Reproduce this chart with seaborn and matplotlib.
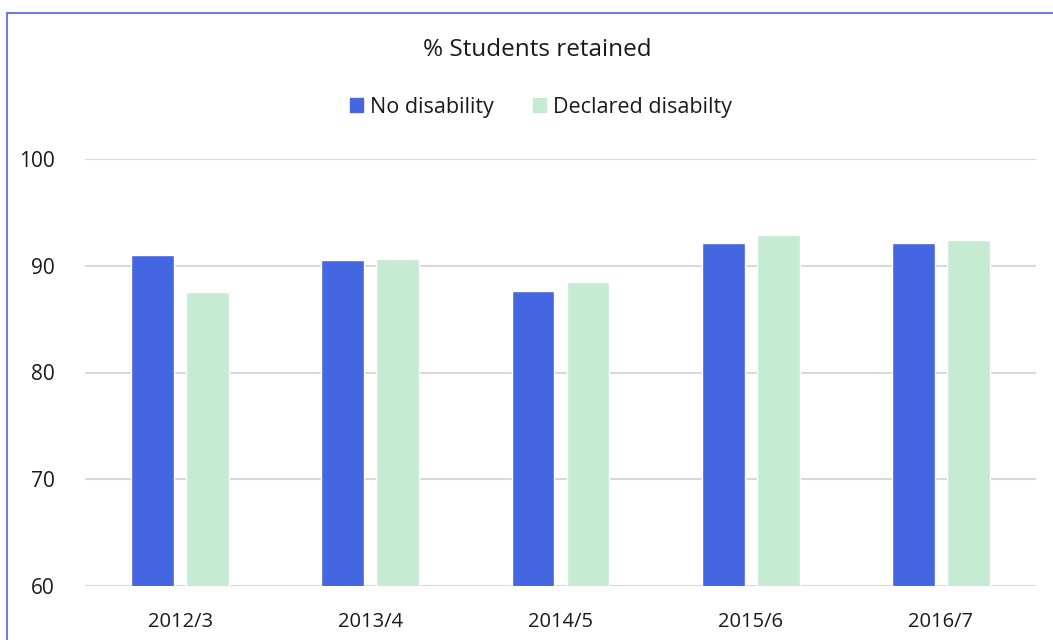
import matplotlib
matplotlib.use("Agg")
import matplotlib.pyplot as plt
from matplotlib.patches import Rectangle
import seaborn as sns
import pandas as pd

# Retention rates by academic year
years = ["2012/3", "2013/4", "2014/5", "2015/6", "2016/7"]
no_disability = [91.0, 90.5, 87.6, 92.1, 92.1]
declared_disability = [87.5, 90.6, 88.45, 92.9, 92.45]
series_names = ["No disability", "Declared disabilty"]
y_ticks = [60, 70, 80, 90, 100]

df = pd.DataFrame({
    "year": years * 2,
    "value": no_disability + declared_disability,
    "group": [series_names[0]] * len(years) + [series_names[1]] * len(years),
})

sns.set_theme(style="white")
plt.rcParams["font.family"] = ["Open Sans", "DejaVu Sans"]

W, H = 1053, 640
fig = plt.figure(figsize=(W / 100, H / 100), dpi=100)
ax = fig.add_axes([85 / W, 54 / H, (1036 - 85) / W, (586 - 159) / H])

palette = {series_names[0]: "#4466e0", series_names[1]: "#c5ebd3"}
sns.barplot(data=df, x="year", y="value", hue="group", order=years,
            hue_order=series_names, palette=palette, width=0.578, gap=0.22,
            saturation=1, ax=ax, legend=False)

ax.set_ylim(60, 100)
ax.set_xlim(-0.5, len(years) - 0.5)
ax.set_yticks(y_ticks)
ax.yaxis.grid(True, color="#d9d9d9", linewidth=1.5)
ax.set_axisbelow(True)
for s in ax.spines.values():
    s.set_visible(False)
ax.set_xlabel("")
ax.set_ylabel("")
ax.tick_params(axis="y", length=0, pad=22, labelsize=15, labelcolor="#1a1a1a")
ax.tick_params(axis="x", length=0, pad=19, labelsize=14.5, labelcolor="#1a1a1a")

# Title and legend above the plot
fig.text(537 / W, 1 - 50 / H, "% Students retained", ha="center", va="center",
         fontsize=17.5, color="#1a1a1a")
handles = [Rectangle((0, 0), 1, 1, color=palette[n]) for n in series_names]
fig.legend(handles, series_names, loc="center", bbox_to_anchor=(541 / W, 1 - 107 / H),
           ncol=2, frameon=False, fontsize=15.5, handlelength=0.6, handleheight=0.6,
           handletextpad=0.35, columnspacing=1.8, labelcolor="#1a1a1a")

# Outer frame starting near the top-left corner
fig.patches.append(Rectangle((7 / W, -0.1), 1.2, 1 - 13 / H + 0.1,
                             transform=fig.transFigure, fill=False,
                             edgecolor="#6b80d9", linewidth=1.5))

fig.savefig("out.png", dpi=100)
